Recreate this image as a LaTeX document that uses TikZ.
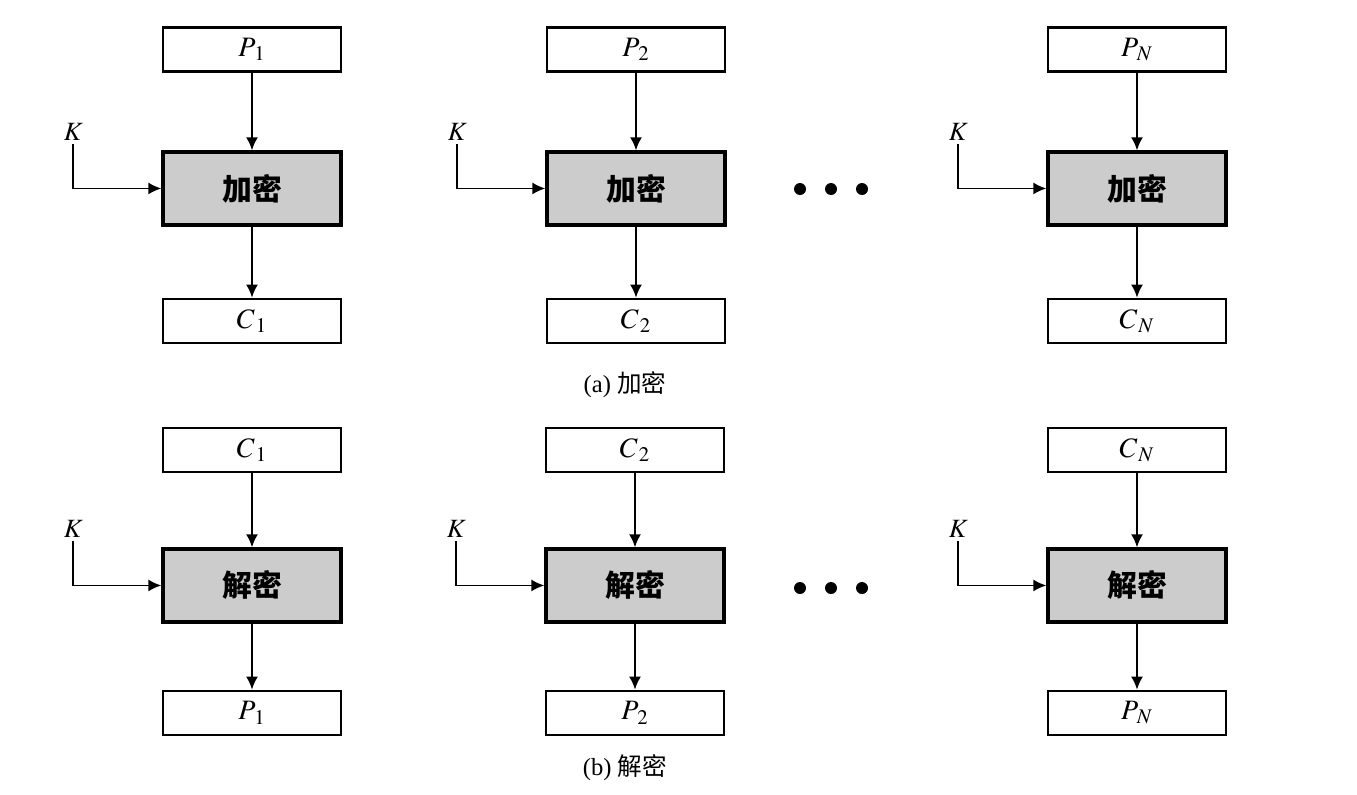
\documentclass[tikz,border=0pt]{standalone}
\usepackage{mathptmx}
\usepackage{fontspec}
\setmainfont{Liberation Serif}
\newfontfamily\cjk{Noto Sans CJK SC}
\usetikzlibrary{positioning, arrows.meta}

\begin{document}
\begin{tikzpicture}
    [
      x=0.02cm, y=-0.02cm,
      databox/.style = {shape=rectangle, draw, line width=1.5pt, minimum width=3.56cm, minimum height=0.88cm, inner sep=0pt, font=\fontsize{16}{18}\selectfont},
      cipherbox/.style = {shape=rectangle, draw, line width=1.9pt, fill=black!20, minimum width=3.56cm, minimum height=1.46cm, font=\cjk\bfseries\fontsize{17}{19}\selectfont},
      flow/.style = {-{Latex[length=2.6mm, width=2.4mm]}, line width=1pt},
      keylabel/.style = {inner sep=1pt, font=\fontsize{15}{17}\selectfont},
      caption/.style = {font=\fontsize{14}{16}\selectfont}
    ]
    \useasboundingbox (0,0) rectangle (1357,795);

    % (a) encryption
    \foreach \n/\x/\s in {a1/252/1, a2/636/2, aN/1137/N} {
      \node[databox] (\n-in) at (\x,49.5) {$P_{\mkern2mu\s}$};
      \node[cipherbox, below=1.55cm of \n-in] (\n-op) {加密};
      \node[databox, below=1.42cm of \n-op] (\n-out) {$C_{\mkern2mu\s}$};
      \coordinate[above left=0.88cm and 1.76cm of \n-op.west] (\n-key);
      \node[keylabel, above=1pt of \n-key] (\n-k) {$K$};
      \draw[flow] (\n-in) -- (\n-op);
      \draw[flow] (\n-op) -- (\n-out);
      \draw[flow] (\n-key) |- (\n-op.west);
    }
    \foreach \x in {800,831,862} \fill (\x,189) circle (0.12cm);
    \node[caption] (capa) at (625,385) {(a) {\cjk 加密}};

    % (b) decryption
    \foreach \n/\x/\s in {b1/252/1, b2/635/2, bN/1137/N} {
      \node[databox] (\n-in) at (\x,450) {$C_{\mkern2mu\s}$};
      \node[cipherbox, below=1.48cm of \n-in] (\n-op) {解密};
      \node[databox, below=1.32cm of \n-op] (\n-out) {$P_{\mkern2mu\s}$};
      \coordinate[above left=0.88cm and 1.76cm of \n-op.west] (\n-key);
      \node[keylabel, above=1pt of \n-key] (\n-k) {$K$};
      \draw[flow] (\n-in) -- (\n-op);
      \draw[flow] (\n-op) -- (\n-out);
      \draw[flow] (\n-key) |- (\n-op.west);
    }
    \foreach \x in {800,831,862} \fill (\x,588) circle (0.12cm);
    \node[caption] (capb) at (625,768) {(b) {\cjk 解密}};
  \end{tikzpicture}
\end{document}
